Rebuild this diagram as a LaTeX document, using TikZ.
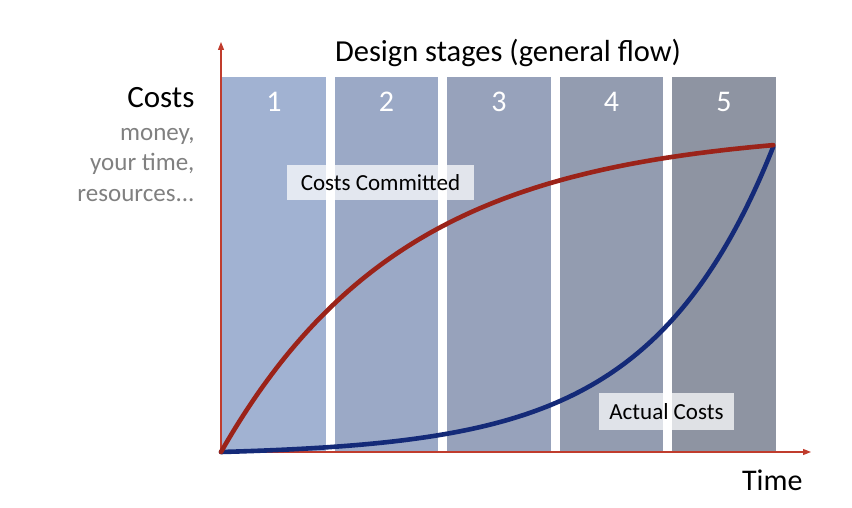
\documentclass[tikz,border=0pt]{standalone}
\usepackage{fontspec}
\setmainfont{Carlito}
\usetikzlibrary{arrows.meta}
\definecolor{colA}{RGB}{161,178,210}
\definecolor{colB}{RGB}{155,169,198}
\definecolor{colC}{RGB}{151,162,187}
\definecolor{colD}{RGB}{147,156,176}
\definecolor{colE}{RGB}{142,148,162}
\definecolor{axisred}{RGB}{192,60,45}
\definecolor{curvered}{RGB}{155,35,25}
\definecolor{curveblue}{RGB}{20,42,120}
\definecolor{graytext}{RGB}{128,128,128}
\tikzset{
  stage/.style={draw=none, inner sep=0pt, minimum width=103.5pt, minimum height=375pt, anchor=north west},
  stagenum/.style={text=white, font=\fontsize{30}{30}\selectfont, anchor=base},
  axisline/.style={draw=axisred, line width=1.3pt, -{Triangle[length=8pt,width=6pt]}},
  labelbox/.style={fill=white, fill opacity=0.72, text opacity=1, inner sep=0pt, font=\fontsize{23}{23}\selectfont},
  curve/.style={line width=4.6pt, line cap=round}
}
\begin{document}
\begin{tikzpicture}[x=1pt,y=-1pt]
\useasboundingbox (0,0) rectangle (852,508);
% stages
\node[stage, fill=colA] (s1) at (222,77) {};
\node[stage, fill=colB] (s2) at (334.5,77) {};
\node[stage, fill=colC] (s3) at (447,77) {};
\node[stage, fill=colD] (s4) at (559.5,77) {};
\node[stage, fill=colE] (s5) at (672,77) {};
\foreach \i in {1,...,5} {
  \node[stagenum] (n\i) at ([yshift=-35pt]s\i.north) {\i};
}
% title
\node[anchor=base, font=\fontsize{30.5}{30}\selectfont] (title) at (508,62) {Design stages (general flow)};
% y label
\node[anchor=base east, font=\fontsize{31}{30}\selectfont] (costs) at (198,108) {Costs};
\node[anchor=base east, text=graytext, font=\fontsize{25}{25}\selectfont] (money) at (198,141) {money,};
\node[anchor=base east, text=graytext, font=\fontsize{25}{25}\selectfont] (yourtime) at (198,171) {your time,};
\node[anchor=base east, text=graytext, font=\fontsize{25}{25}\selectfont] (resources) at (198,201) {resources...};
% x label
\node[anchor=base east, font=\fontsize{30}{30}\selectfont] (time) at (806,490) {Time};
% label boxes
\node[labelbox, minimum width=187pt, minimum height=35pt] (committed) at (380.5,182.5) {Costs Committed};
\node[labelbox, minimum width=135pt, minimum height=37pt] (actual) at (666.5,411.5) {Actual Costs};
% axes
\coordinate (origin) at (221,452);
\coordinate (ytip) at (221,42);
\coordinate (xtip) at (811,452);
\draw[axisline] (origin) -- (ytip);
\draw[axisline] (origin) -- (xtip);
% curves
\draw[curve, curveblue] plot[domain=0:1, samples=120, smooth] ({221+553*\x}, {452-3.45*(exp(4.5*\x)-1)});
\draw[curve, curvered] plot[domain=0:1, samples=120, smooth] ({221+553*\x}, {452-323*(1-exp(-3*\x))});
\end{tikzpicture}
\end{document}
